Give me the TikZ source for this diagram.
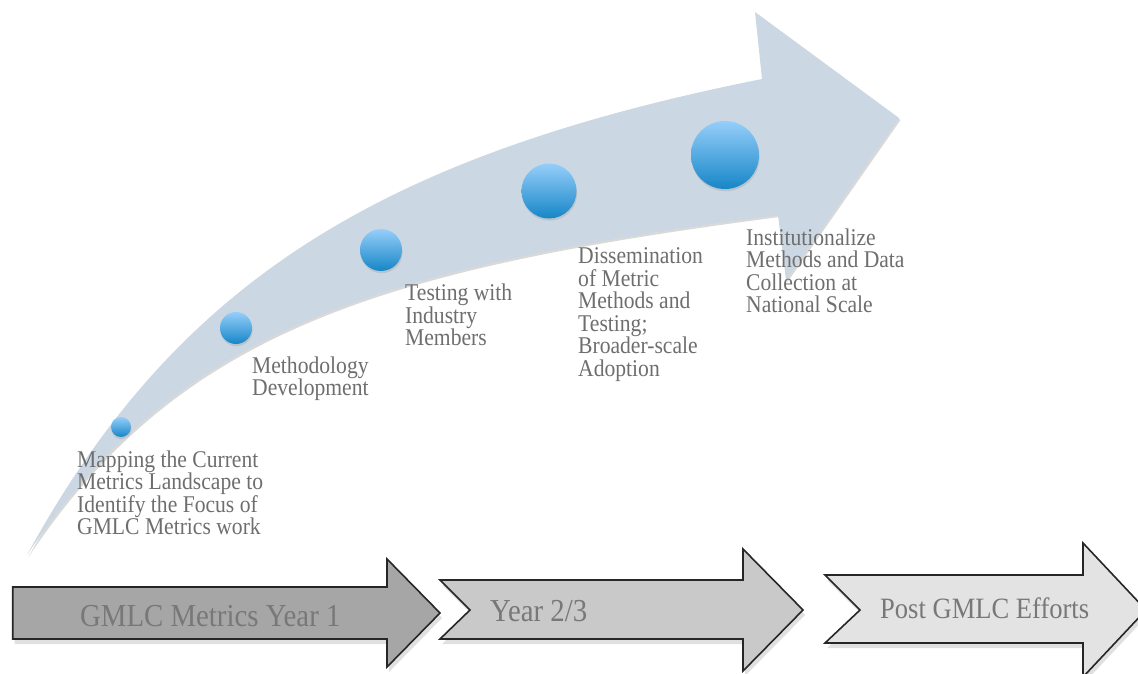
\documentclass[tikz,border=0pt]{standalone}
\usepackage{fontspec}
\setmainfont[FakeStretch=0.9]{Liberation Serif}
\usetikzlibrary{shadows}

\definecolor{bandfill}{HTML}{CBD7E2}
\definecolor{dotlight}{HTML}{96CEFA}
\definecolor{dotdark}{HTML}{1686C7}
\definecolor{notegray}{HTML}{6E6E6E}
\definecolor{phasetext}{HTML}{787878}
\definecolor{phaseA}{HTML}{A6A6A6}
\definecolor{phaseB}{HTML}{C9C9C9}
\definecolor{phaseC}{HTML}{E3E3E3}
\definecolor{rim}{HTML}{262626}

\tikzset{
  milestone/.style={circle, inner sep=0pt, shading=axis,
    top color=dotlight, bottom color=dotdark,
    drop shadow={shadow xshift=0.6pt, shadow yshift=-2.2pt, opacity=0.22}},
  note/.style={anchor=north west, inner sep=0pt, align=left, text=notegray,
    font=\fontsize{24}{22.5}\selectfont},
  phase/.style={draw=rim, line width=1.6pt, line join=miter},
  phaseshadow/.style={fill=black, opacity=0.12},
  phaselabel/.style={anchor=base west, inner sep=0pt, text=phasetext},
}

\begin{document}
\begin{tikzpicture}[x=1pt, y=-1pt]
\useasboundingbox (0,0) rectangle (1138,674);
\clip (0,0) rectangle (1138,674);

% curved roadmap arrow: soft shadow, then the band itself
\fill[black, opacity=0.15, shift={(1.5,2)}]
  (27,555) .. controls (177,280.5) and (382,155) .. (762,79)
  -- (755,12) -- (899,118) -- (786,280) -- (778,215)
  .. controls (378,267) and (177,330) .. (27,555) -- cycle;
\fill[bandfill]
  (27,555) .. controls (177,280.5) and (382,155) .. (762,79)
  -- (755,12) -- (899,118) -- (786,280) -- (778,215)
  .. controls (378,267) and (177,330) .. (27,555) -- cycle;

% milestones along the band
\node[milestone, minimum size=20] (m1) at (121,427) {};
\node[milestone, minimum size=32] (m2) at (236,328) {};
\node[milestone, minimum size=42] (m3) at (381,250) {};
\node[milestone, minimum size=55] (m4) at (549,191) {};
\node[milestone, minimum size=68] (m5) at (725,155) {};

% milestone descriptions
\node[note] (n1) at (77,450.5) {Mapping the Current\\Metrics Landscape to\\Identify the Focus of\\GMLC Metrics work};
\node[note] (n2) at (252,356.5) {Methodology\\Development};
\node[note] (n3) at (405,284) {Testing with\\Industry\\Members};
\node[note] (n4) at (578,247.5) {Dissemination\\of Metric\\Methods and\\Testing;\\Broader-scale\\Adoption};
\node[note] (n5) at (746,228.5) {Institutionalize\\Methods and Data\\Collection at\\National Scale};

% phase arrows along the bottom
\fill[phaseshadow, shift={(2,5)}]
  (12.7,587) -- (387,587) -- (387,559) -- (440,613) -- (387,667) -- (387,639) -- (12.7,639) -- cycle;
\path[phase, fill=phaseA]
  (12.7,587) -- (387,587) -- (387,559) -- (440,613) -- (387,667) -- (387,639) -- (12.7,639) -- cycle;

\fill[phaseshadow, shift={(2,5)}]
  (440,580) -- (743,580) -- (743,549) -- (803,610) -- (743,671) -- (743,639) -- (440,639) -- (470,610) -- cycle;
\path[phase, fill=phaseB]
  (440,580) -- (743,580) -- (743,549) -- (803,610) -- (743,671) -- (743,639) -- (440,639) -- (470,610) -- cycle;

\fill[phaseshadow, shift={(2,5)}]
  (825,575) -- (1083,575) -- (1083,543) -- (1146,610) -- (1083,677) -- (1083,643) -- (825,643) -- (860,610) -- cycle;
\path[phase, fill=phaseC]
  (825,575) -- (1083,575) -- (1083,543) -- (1146,610) -- (1083,677) -- (1083,643) -- (825,643) -- (860,610) -- cycle;

\node[phaselabel, font=\fontsize{32}{36}\selectfont] (p1) at (80,626) {GMLC Metrics Year 1};
\node[phaselabel, font=\fontsize{32}{36}\selectfont] (p2) at (490,621) {Year 2/3};
\node[phaselabel, font=\fontsize{29.5}{34}\selectfont] (p3) at (880,618) {Post GMLC Efforts};
\end{tikzpicture}
\end{document}
